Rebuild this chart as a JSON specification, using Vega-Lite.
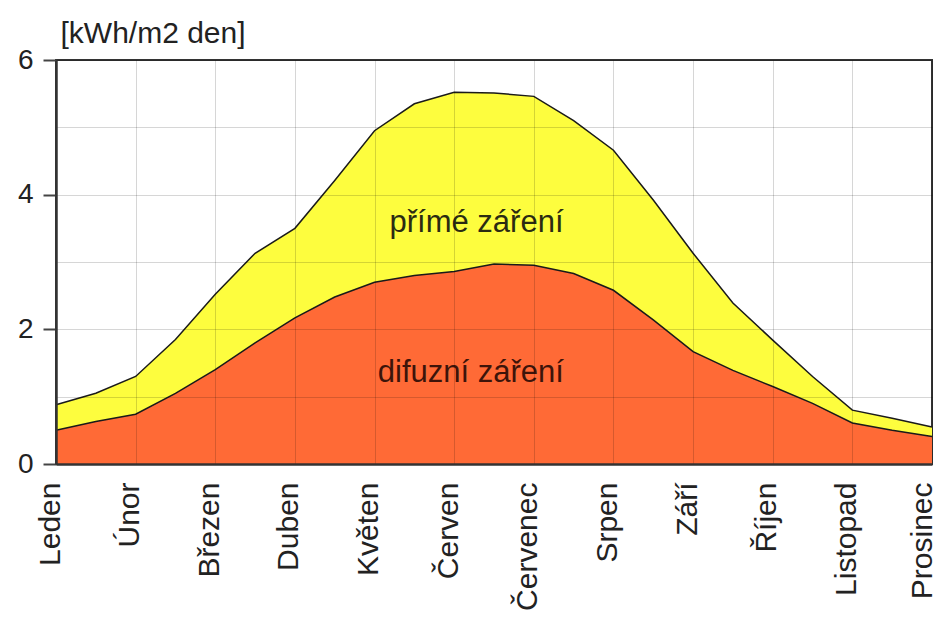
{
  "$schema": "https://vega.github.io/schema/vega-lite/v6.json",
  "width": 876,
  "height": 404,
  "autosize": "none",
  "padding": {"left": 56, "top": 60, "right": 7, "bottom": 153},
  "background": "white",
  "config": {
    "font": "Liberation Sans",
    "view": {"stroke": "#333333", "strokeWidth": 2}
  },
  "data": {
    "values": [
      {"m": 0, "celkem": 0.88, "difuzni": 0.50},
      {"m": 0.5, "celkem": 1.05, "difuzni": 0.63},
      {"m": 1, "celkem": 1.30, "difuzni": 0.74},
      {"m": 1.5, "celkem": 1.85, "difuzni": 1.05},
      {"m": 2, "celkem": 2.52, "difuzni": 1.40},
      {"m": 2.5, "celkem": 3.13, "difuzni": 1.80},
      {"m": 3, "celkem": 3.50, "difuzni": 2.17},
      {"m": 3.5, "celkem": 4.21, "difuzni": 2.48},
      {"m": 4, "celkem": 4.95, "difuzni": 2.70},
      {"m": 4.5, "celkem": 5.35, "difuzni": 2.80},
      {"m": 5, "celkem": 5.52, "difuzni": 2.86},
      {"m": 5.5, "celkem": 5.51, "difuzni": 2.97},
      {"m": 6, "celkem": 5.46, "difuzni": 2.95},
      {"m": 6.5, "celkem": 5.10, "difuzni": 2.83},
      {"m": 7, "celkem": 4.66, "difuzni": 2.58},
      {"m": 7.5, "celkem": 3.92, "difuzni": 2.14},
      {"m": 8, "celkem": 3.13, "difuzni": 1.67},
      {"m": 8.5, "celkem": 2.39, "difuzni": 1.39},
      {"m": 9, "celkem": 1.84, "difuzni": 1.15},
      {"m": 9.5, "celkem": 1.30, "difuzni": 0.90},
      {"m": 10, "celkem": 0.80, "difuzni": 0.61},
      {"m": 10.5, "celkem": 0.68, "difuzni": 0.50},
      {"m": 11, "celkem": 0.55, "difuzni": 0.41}
    ]
  },
  "layer": [
    {
      "mark": {"type": "area", "color": "#FDFD3E", "opacity": 1, "fillOpacity": 1, "line": {"color": "#1a1a1a", "strokeWidth": 1.5}},
      "encoding": {
        "x": {
          "field": "m", "type": "quantitative",
          "scale": {"domain": [0, 11], "nice": false, "zero": false},
          "axis": {
            "values": [0, 1, 2, 3, 4, 5, 6, 7, 8, 9, 10, 11],
            "labelExpr": "['Leden','Únor','Březen','Duben','Květen','Červen','Červenec','Srpen','Září','Říjen','Listopad','Prosinec'][datum.value]",
            "title": null,
            "labelAngle": -90,
            "labelAlign": "right",
            "labelBaseline": "middle",
            "labelFontSize": 30,
            "labelColor": "#222222",
            "labelPadding": 18,
            "labelOffset": {"condition": {"test": "datum.value === 11", "value": -10}, "value": -6},
            "labelOverlap": false,
            "labelFlush": false,
            "labelBound": false,
            "ticks": false,
            "grid": true,
            "gridColor": "#000000",
            "gridOpacity": 0.16,
            "gridWidth": 1,
            "domainColor": "#333333",
            "domainWidth": 2.5,
            "zindex": 1
          }
        },
        "y": {
          "field": "celkem", "type": "quantitative",
          "scale": {"domain": [0, 6], "nice": false},
          "axis": {
            "values": [0, 1, 2, 3, 4, 5, 6],
            "labelExpr": "datum.value % 2 === 0 ? format(datum.value, 'd') : ''",
            "title": "[kWh/m2 den]",
            "titleAngle": 0,
            "titleAlign": "left",
            "titleBaseline": "alphabetic",
            "titleX": 4,
            "titleY": -18,
            "titleFontSize": 30,
            "titleFontWeight": "normal",
            "titleColor": "#222222",
            "labelFontSize": 28,
            "labelColor": "#222222",
            "labelPadding": 10,
            "tickSize": 13,
            "tickColor": "#444444",
            "tickWidth": 2,
            "tickOpacity": {"condition": {"test": "datum.value % 2 === 0", "value": 1}, "value": 0},
            "grid": true,
            "gridColor": "#000000",
            "gridOpacity": 0.16,
            "gridWidth": 1,
            "domainColor": "#333333",
            "domainWidth": 2.5,
            "zindex": 1
          }
        }
      }
    },
    {
      "mark": {"type": "area", "color": "#FF6A36", "opacity": 1, "fillOpacity": 1, "line": {"color": "#1a1a1a", "strokeWidth": 1.5}},
      "encoding": {
        "x": {"field": "m", "type": "quantitative"},
        "y": {"field": "difuzni", "type": "quantitative"}
      }
    },
    {
      "data": {"values": [{"x": 5.28, "y": 3.44, "t": "přímé záření"}]},
      "mark": {"type": "text", "fontSize": 31, "color": "#2b2b12", "align": "center", "baseline": "alphabetic"},
      "encoding": {
        "x": {"field": "x", "type": "quantitative"},
        "y": {"field": "y", "type": "quantitative"},
        "text": {"field": "t"}
      }
    },
    {
      "data": {"values": [{"x": 5.21, "y": 1.22, "t": "difuzní záření"}]},
      "mark": {"type": "text", "fontSize": 31, "color": "#3d140a", "align": "center", "baseline": "alphabetic"},
      "encoding": {
        "x": {"field": "x", "type": "quantitative"},
        "y": {"field": "y", "type": "quantitative"},
        "text": {"field": "t"}
      }
    }
  ]
}
